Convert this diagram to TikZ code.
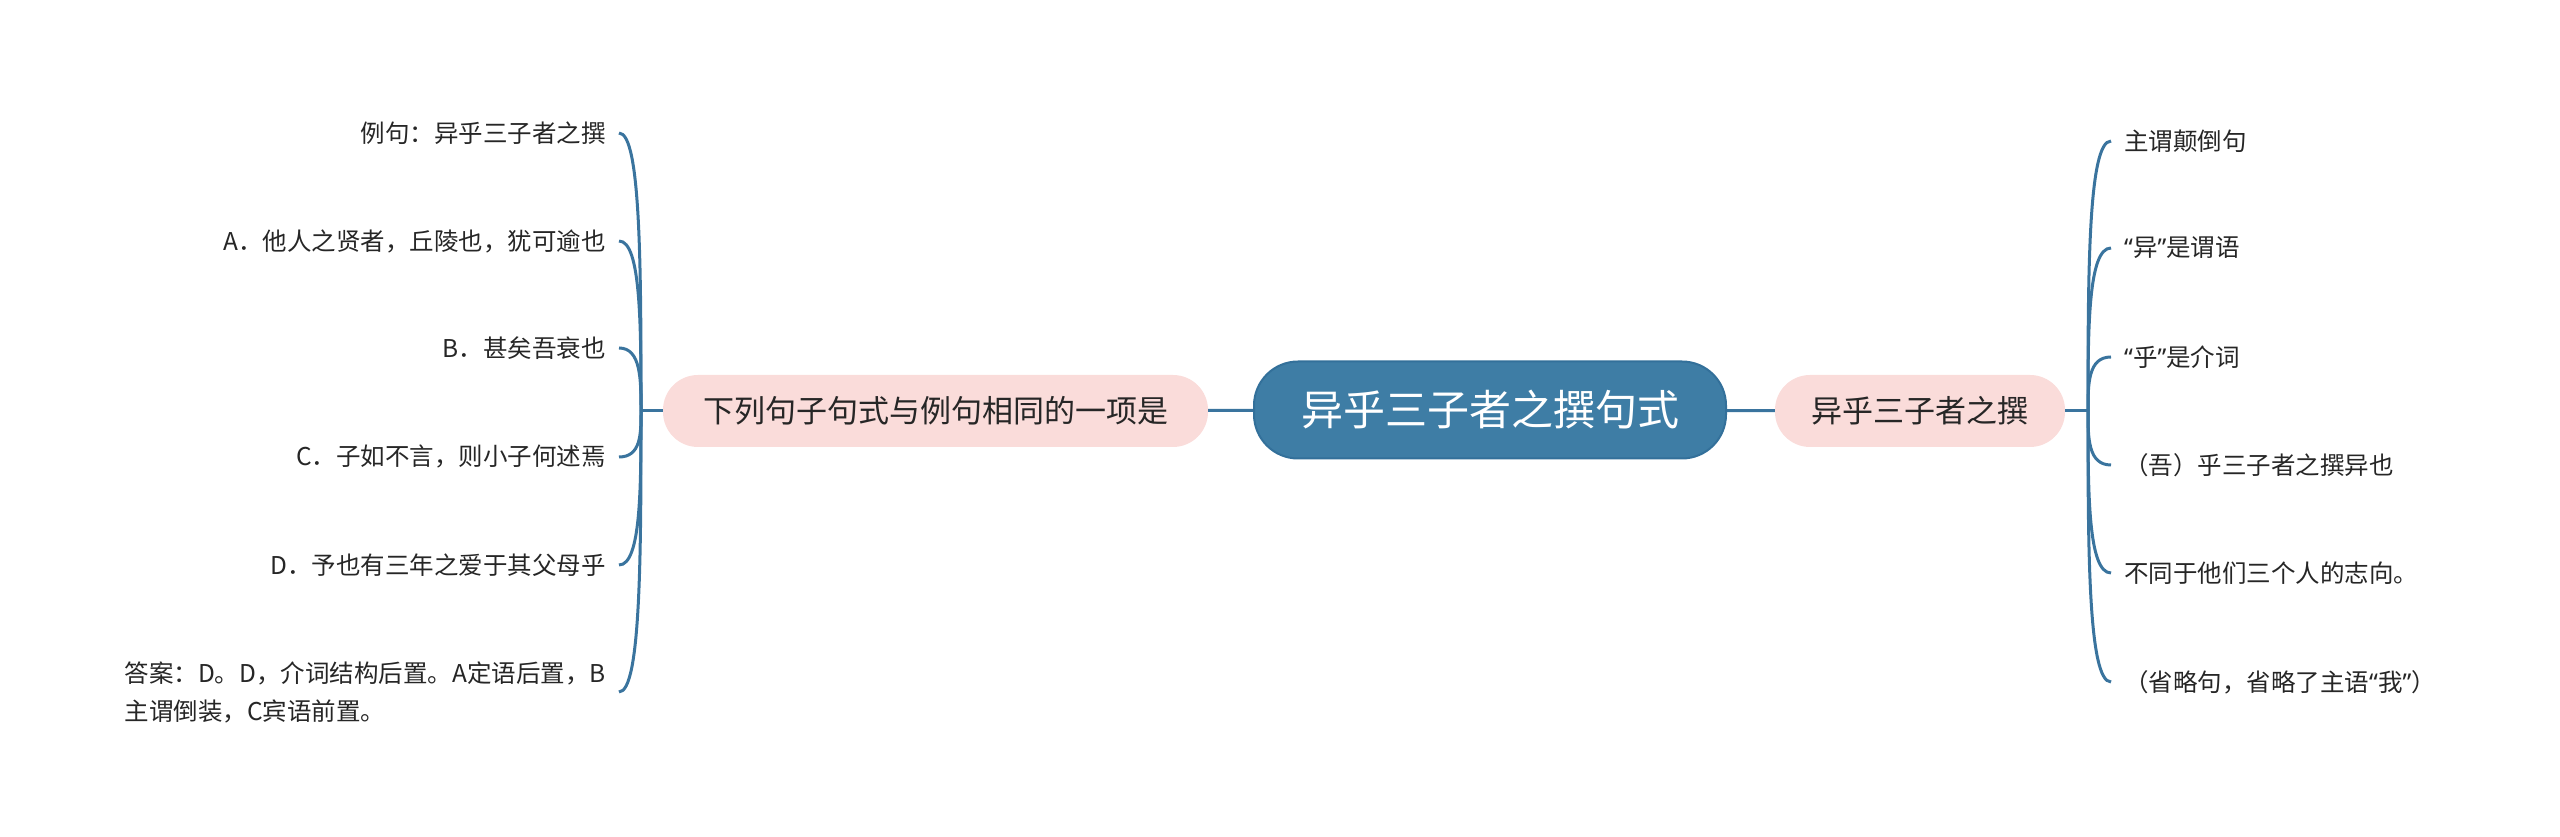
\documentclass[tikz,border=0pt]{standalone}
\usepackage{fontspec}
\newfontfamily\zhfont{Noto Sans CJK SC}
\newfontfamily\quotefont{Noto Sans}
\newcommand{\lquo}{{\quotefont “}}
\newcommand{\rquo}{{\quotefont ”}}
\usetikzlibrary{positioning}
\usetikzlibrary{calc}
\definecolor{rootblue}{HTML}{3E7DA5}
\definecolor{rootedge}{HTML}{33709A}
\definecolor{topicpink}{HTML}{FADCDA}
\definecolor{linecol}{HTML}{3A749E}
\definecolor{inkgray}{HTML}{262626}
\tikzset{
root/.style={ % Sets the properties for the central topic
draw=rootedge, line width=2pt,
fill=rootblue, text=white,
rounded corners=44pt,
minimum width=472pt, minimum height=97pt,
font=\zhfont\fontsize{42pt}{48pt}\selectfont},
topic/.style={ % Main branches
fill=topicpink, text=inkgray,
rounded corners=35pt,
minimum height=72pt,
font=\zhfont\fontsize{31pt}{38pt}\selectfont},
leaf/.style={ % Plain text leaves
text=inkgray, inner xsep=13pt, inner ysep=4pt,
font=\zhfont\fontsize{24.5pt}{38pt}\selectfont},
branch/.style={ % Bracket curves, vertical first then bent into the leaf
to path={.. controls ($(\tikztostart)!0.5!(\tikztostart |- \tikztotarget)$) and (\tikztostart |- \tikztotarget) .. (\tikztotarget)}},
every edge/.style={ % Sets the properties for each connector
draw=linecol,
line width=3pt}}

\begin{document}
\begin{tikzpicture}[x=1pt, y=1pt]
	\useasboundingbox (0,0) rectangle (2560,837);
	\node[root] (root) at (1490,427) {异乎三子者之撰句式};
	\node[topic, minimum width=545pt] (ques) at (935.5,426) {下列句子句式与例句相同的一项是};
	\node[topic, minimum width=290pt] (sent) at (1920,426) {异乎三子者之撰};
	\coordinate (lj) at (641,426);
	\coordinate (rj) at (2088,426);
	% left leaves
	\node[leaf, anchor=east] (q0) at (619,704) {例句：异乎三子者之撰};
	\node[leaf, anchor=east] (qa) at (619,596) {A．他人之贤者，丘陵也，犹可逾也};
	\node[leaf, anchor=east] (qb) at (619,489) {B．甚矣吾衰也};
	\node[leaf, anchor=east] (qc) at (619,380) {C．子如不言，则小子何述焉};
	\node[leaf, anchor=east] (qd) at (619,272) {D．予也有三年之爱于其父母乎};
	\node[leaf, anchor=east, align=left] (ans) at (619,145) {答案：D。D，介词结构后置。A定语后置，B\\主谓倒装，C宾语前置。};
	% right leaves
	\node[leaf, anchor=west] (s1) at (2111,696) {主谓颠倒句};
	\node[leaf, anchor=west] (s2) at (2111,589) {\lquo 异\rquo 是谓语};
	\node[leaf, anchor=west] (s3) at (2111,480) {\lquo 乎\rquo 是介词};
	\node[leaf, anchor=west] (s4) at (2111,372) {（吾）乎三子者之撰异也};
	\node[leaf, anchor=west] (s5) at (2111,264) {不同于他们三个人的志向。};
	\node[leaf, anchor=west] (s6) at (2111,155) {（省略句，省略了主语\lquo 我\rquo ）};
	\draw (root) edge (ques);
	\draw (root) edge (sent);
	\draw (ques) edge (lj);
	\draw (sent) edge (rj);
	\draw (lj) edge[branch] (q0);
	\draw (lj) edge[branch] (qa);
	\draw (lj) edge[branch] (qb);
	\draw (lj) edge[branch] (qc);
	\draw (lj) edge[branch] (qd);
	\draw (lj) edge[branch] (ans);
	\draw (rj) edge[branch] (s1);
	\draw (rj) edge[branch] (s2);
	\draw (rj) edge[branch] (s3);
	\draw (rj) edge[branch] (s4);
	\draw (rj) edge[branch] (s5);
	\draw (rj) edge[branch] (s6);
\end{tikzpicture}
\end{document}
